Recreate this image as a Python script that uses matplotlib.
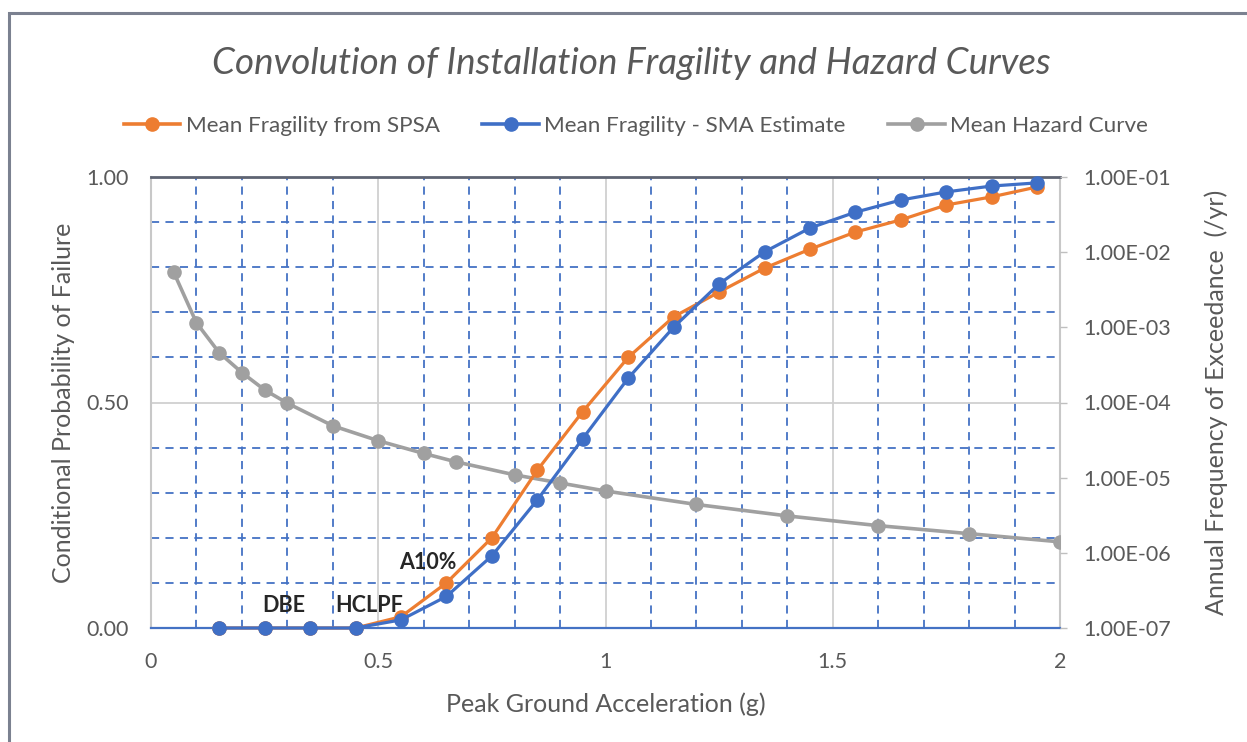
import matplotlib
matplotlib.use("Agg")
import matplotlib.pyplot as plt
from matplotlib.patches import Rectangle
from matplotlib.ticker import MultipleLocator, FixedLocator, FuncFormatter, NullLocator
from matplotlib.lines import Line2D

plt.rcParams['font.family'] = ['Lato', 'DejaVu Sans']

# ---------------- data ----------------
x_frag = [0.15, 0.25, 0.35, 0.45, 0.55, 0.65, 0.75, 0.85, 0.95, 1.05,
          1.15, 1.25, 1.35, 1.45, 1.55, 1.65, 1.75, 1.85, 1.95]
spsa = [0.0, 0.0, 0.0, 0.0, 0.025, 0.10, 0.20, 0.35, 0.48, 0.60,
        0.69, 0.745, 0.798, 0.84, 0.878, 0.905, 0.938, 0.956, 0.978]
sma = [0.0, 0.0, 0.0, 0.0, 0.018, 0.07, 0.16, 0.284, 0.42, 0.554,
       0.667, 0.763, 0.834, 0.887, 0.922, 0.949, 0.967, 0.98, 0.987]

x_haz = [0.05, 0.1, 0.15, 0.2, 0.25, 0.3, 0.4, 0.5, 0.6, 0.67,
         0.8, 0.9, 1.0, 1.2, 1.4, 1.6, 1.8, 2.0]
hazard = [5.4e-3, 1.15e-3, 4.6e-4, 2.5e-4, 1.47e-4, 9.8e-5, 4.9e-5, 3.1e-5, 2.1e-5, 1.63e-5,
          1.09e-5, 8.5e-6, 6.65e-6, 4.4e-6, 3.1e-6, 2.3e-6, 1.8e-6, 1.4e-6]

labels = ["Mean Fragility from SPSA", "Mean Fragility - SMA Estimate", "Mean Hazard Curve"]
x_ticks = [0, 0.5, 1, 1.5, 2]
x_ticklabels = ["0", "0.5", "1", "1.5", "2"]
y_ticks = [0.0, 0.5, 1.0]
y_ticklabels = ["0.00", "0.50", "1.00"]
haz_ticks = [1e-7, 1e-6, 1e-5, 1e-4, 1e-3, 1e-2, 1e-1]

annotations = [("DBE", 0.293, 0.049), ("HCLPF", 0.48, 0.05), ("A10%", 0.61, 0.146)]

title = "Convolution of Installation Fragility and Hazard Curves"
xlabel = "Peak Ground Acceleration (g)"
ylabel = "Conditional Probability of Failure"
y2label = "Annual Frequency of Exceedance  (/yr)"

# ---------------- style ----------------
ORANGE = "#ED7D31"
BLUE = "#3F6FC6"
GRAY = "#A0A0A0"
TXT = "#595959"
GRID_BLUE = "#4472C4"

W, H = 1247, 742
fig = plt.figure(figsize=(W / 100, H / 100), dpi=100)
L, R, T, B = 151, 1060, 177, 628
pos = [L / W, 1 - B / H, (R - L) / W, (B - T) / H]

ax = fig.add_axes(pos)
ax.set_xlim(0, 2)
ax.set_ylim(0, 1)
ax.xaxis.set_major_locator(FixedLocator(x_ticks))
ax.set_xticklabels(x_ticklabels)
ax.yaxis.set_major_locator(FixedLocator(y_ticks))
ax.set_yticklabels(y_ticklabels)
ax.xaxis.set_minor_locator(MultipleLocator(0.1))
ax.yaxis.set_minor_locator(MultipleLocator(0.1))
ax.grid(which='major', color='#D0D0D0', linestyle='-', linewidth=1.3)
ax.grid(which='minor', color=GRID_BLUE, linestyle=(0, (4.5, 3.5)), linewidth=1.3)
ax.tick_params(which='both', length=0, labelsize=15.5, labelcolor=TXT)
ax.tick_params(axis='x', pad=17)
ax.tick_params(axis='y', pad=16)
ax.set_axisbelow(True)
for s in ['left', 'right']:
    ax.spines[s].set_color('#C8C8C8')
    ax.spines[s].set_linewidth(1.5)
ax.spines['top'].set_color('#5E6472')
ax.spines['top'].set_linewidth(2)
ax.spines['bottom'].set_color(GRID_BLUE)
ax.spines['bottom'].set_linewidth(1.6)
ax.set_xlabel(xlabel, fontsize=18, color=TXT, labelpad=15)
ax.set_ylabel(ylabel, fontsize=18, color=TXT, labelpad=8)

# hazard axis (log)
ax2 = ax.twinx()
ax2.set_yscale('log')
ax2.set_ylim(1e-7, 1e-1)
ax2.yaxis.set_major_locator(FixedLocator(haz_ticks))
ax2.yaxis.set_minor_locator(NullLocator())
ax2.yaxis.set_major_formatter(FuncFormatter(lambda v, p: ("%.2E" % v)))
ax2.tick_params(axis='y', which='major', length=5, width=1, color='#BFBFBF',
                labelsize=15.5, labelcolor=TXT, pad=12)
for s in ax2.spines.values():
    s.set_visible(False)
ax2.plot(x_haz, hazard, color=GRAY, lw=2.6, marker='o', ms=9.5, zorder=3)
ax2.set_ylabel(y2label, fontsize=18, color=TXT, labelpad=24)

# fragility axis on top
ax3 = ax.twinx()
ax3.set_ylim(0, 1)
ax3.set_yticks([])
for s in ax3.spines.values():
    s.set_visible(False)
ax3.plot(x_frag, spsa, color=ORANGE, lw=2.3, marker='o', ms=9.5, zorder=3, clip_on=False)
ax3.plot(x_frag, sma, color=BLUE, lw=2.3, marker='o', ms=9.5, zorder=4, clip_on=False)
for txt, xx, yy in annotations:
    ax3.text(xx, yy, txt, ha='center', va='center', fontsize=15.5, fontweight='bold', color='#262626')

# title
fig.text(631 / W, 1 - 63 / H, title, ha='center', va='center', fontsize=26.5,
         style='italic', color=TXT)

# legend
handles = [Line2D([], [], color=ORANGE, lw=2.6, marker='o', ms=9.5),
           Line2D([], [], color=BLUE, lw=2.6, marker='o', ms=9.5),
           Line2D([], [], color=GRAY, lw=2.6, marker='o', ms=9.5)]
fig.legend(handles, labels, loc='center', bbox_to_anchor=(636 / W, 1 - 126 / H), ncol=3,
           frameon=False, fontsize=16.2, labelcolor=TXT, handlelength=2.5,
           handletextpad=0.25, columnspacing=1.9)

# outer frame
fig.patches.append(Rectangle((9 / W, -0.2), 1.5, 1.2 - 13 / H, transform=fig.transFigure,
                             fill=False, edgecolor='#7B8190', lw=2.2))

fig.savefig("out.png", dpi=100)
